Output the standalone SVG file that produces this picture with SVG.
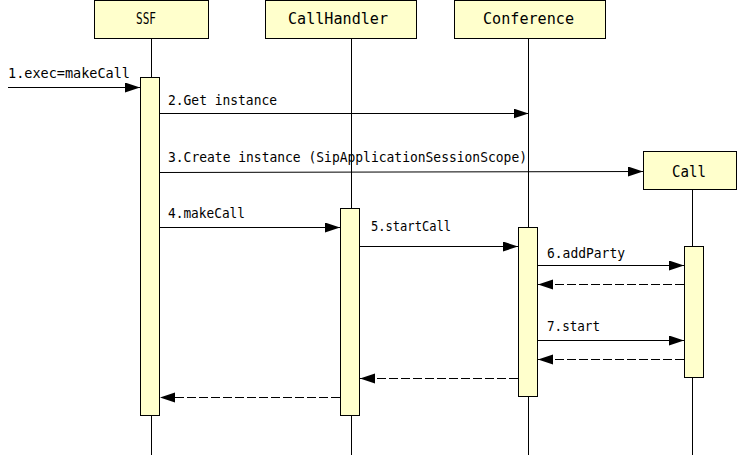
<svg xmlns="http://www.w3.org/2000/svg" width="738" height="455" viewBox="0 0 738 455">
<style>
.box{fill:#ffffcc;stroke:#000;stroke-width:1}
.life{stroke:#000;stroke-width:1;fill:none}
.msg{stroke:#000;stroke-width:1;fill:none;marker-end:url(#arr)}
.ret{stroke:#000;stroke-width:1;fill:none;stroke-dasharray:9 3;marker-end:url(#arr)}
.hdr{font-family:"DejaVu Sans Mono","Liberation Mono",monospace;font-size:15px;fill:#000}
.lbl{font-family:"DejaVu Sans Mono","Liberation Mono",monospace;font-size:13.5px;fill:#000}
</style>
<defs>
<marker id="arr" markerUnits="userSpaceOnUse" markerWidth="16" markerHeight="12" refX="15" refY="5" orient="auto">
<path d="M0,0 L15,5 L0,10 z" fill="#000"/>
</marker>
</defs>
<rect width="738" height="455" fill="#fff"/>
<g id="lifelines">
<line class="life" x1="151.5" y1="38" x2="151.5" y2="455"/>
<line class="life" x1="351.5" y1="38" x2="351.5" y2="455"/>
<line class="life" x1="528.5" y1="38" x2="528.5" y2="455"/>
<line class="life" x1="692.5" y1="189" x2="692.5" y2="455"/>
</g>
<g id="SSF">
<rect class="box" x="94.5" y="0.5" width="114" height="38"/>
<text class="hdr" x="146" y="24" text-anchor="middle" textLength="20" lengthAdjust="spacingAndGlyphs">SSF</text>
<rect class="box" x="140.5" y="77.5" width="19" height="338"/>
</g>
<g id="CallHandler">
<rect class="box" x="265.5" y="0.5" width="151" height="38"/>
<text class="hdr" x="288" y="24" textLength="100" lengthAdjust="spacingAndGlyphs">CallHandler</text>
<rect class="box" x="340.5" y="208.5" width="19" height="207"/>
</g>
<g id="Conference">
<rect class="box" x="454.5" y="0.5" width="151" height="38"/>
<text class="hdr" x="483" y="24" textLength="91" lengthAdjust="spacingAndGlyphs">Conference</text>
<rect class="box" x="518.5" y="227.5" width="19" height="169"/>
</g>
<g id="Call">
<rect class="box" x="643.5" y="151.5" width="93" height="38"/>
<text class="hdr" x="672" y="177" textLength="34" lengthAdjust="spacingAndGlyphs">Call</text>
<rect class="box" x="684.5" y="246.5" width="19" height="131"/>
</g>
<g id="connectors">
<line class="msg" x1="8" y1="87.5" x2="140" y2="87.5"/>
<line class="msg" x1="160" y1="113.5" x2="528.5" y2="113.5"/>
<line class="msg" x1="160" y1="172.5" x2="643" y2="171.5"/>
<line class="msg" x1="160" y1="227.5" x2="340" y2="227.5"/>
<line class="msg" x1="360" y1="246.5" x2="518" y2="246.5"/>
<line class="msg" x1="538" y1="265.5" x2="684" y2="265.5"/>
<line class="ret" x1="684" y1="284.5" x2="538" y2="284.5"/>
<line class="msg" x1="538" y1="340.5" x2="684" y2="340.5"/>
<line class="ret" x1="684" y1="359.5" x2="538" y2="359.5"/>
<line class="ret" x1="518" y1="378.5" x2="360" y2="378.5"/>
<line class="ret" x1="340" y1="397.5" x2="160" y2="397.5"/>
</g>
<g id="labels">
<text class="lbl" x="8" y="78" textLength="122" lengthAdjust="spacingAndGlyphs">1.exec=makeCall</text>
<text class="lbl" x="168" y="105" textLength="109" lengthAdjust="spacingAndGlyphs">2.Get instance</text>
<text class="lbl" x="168" y="162" textLength="359" lengthAdjust="spacingAndGlyphs">3.Create instance (SipApplicationSessionScope)</text>
<text class="lbl" x="168" y="218" textLength="77" lengthAdjust="spacingAndGlyphs">4.makeCall</text>
<text class="lbl" x="371" y="231" textLength="80" lengthAdjust="spacingAndGlyphs">5.startCall</text>
<text class="lbl" x="547" y="258" textLength="78" lengthAdjust="spacingAndGlyphs">6.addParty</text>
<text class="lbl" x="547" y="331" textLength="53" lengthAdjust="spacingAndGlyphs">7.start</text>
</g>
</svg>
